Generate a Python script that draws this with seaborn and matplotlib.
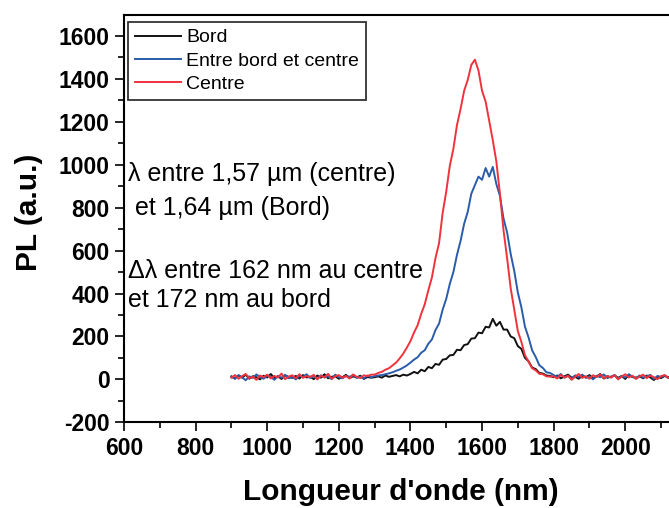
import numpy as np
import pandas as pd
import matplotlib
matplotlib.use("Agg")
import matplotlib.pyplot as plt
import seaborn as sns

# wavelength grid (nm), sampled every 10 nm
wavelength = np.arange(900, 2131, 10)

bord = [12, 5, 18, 8, 22, 3, 15, 10, 0, 17, 9, 25, 6, 14, 2, 19, 11, 7, 16, 4,
        20, 9, 13, 1, 18, 8, 24, 5, 12, 15, 3, 10, 21, 6, 14, 9, 17, 2, 11, 8,
        10, 14, 8, 18, 12, 16, 20, 14, 22, 18,
        25, 35, 28, 45, 38, 58, 52, 72, 68, 92,
        95, 112, 114, 138, 136, 160, 164, 190, 192, 218,
        215, 245, 242, 282, 250, 268, 232, 232, 200, 192,
        155, 142, 100, 84, 55, 48, 30, 27, 18, 16,
        10, 18, 5, 14, 22, 8, 12, 3, 17, 9, 20, 6, 13, 25, 4, 15, 10, 19, 7, 16,
        2, 21, 11, 8, 14, 5, 18, 9, -3, 12, 6, 16, 10, 13]

entre = [15, 2, 20, 9, -4, 14, 7, 23, 10, 3, 18, 12, -2, 16, 8, 21, 5, 13, 0, 17,
         11, 24, 6, 15, 3, 19, 9, 14, 1, 22, 10, 5, 16, 12, 20, 7, 13, 4, 18, 10,
         15, 18, 20, 24, 28, 33, 40, 46, 55, 65,
         78, 92, 103, 124, 136, 166, 186, 230, 260, 325,
         375, 445, 500, 580, 645, 725, 780, 865, 905, 945,
         930, 985, 945, 990, 910, 855, 750, 685, 585, 505,
         405, 335, 245, 195, 135, 104, 66, 53, 33, 30,
         20, 12, 25, 8, 16, 4, 19, 11, 22, 7, 14, 0, 17, 10, 23, 6, 13, 20, 3, 15,
         9, 24, 12, 5, 18, 8, 14, 21, 2, 16, 11, 19, 6, 13]

centre = [8, 20, 3, 15, 25, 6, 12, -2, 18, 10, 22, 4, 16, 9, 27, 1, 13, 19, 5, 24,
          7, 15, 11, 21, 0, 17, 9, 26, 3, 14, 20, 8, 16, 4, 23, 12, 6, 19, 15, 22,
          22, 30, 35, 45, 52, 65, 78, 98, 120, 148,
          178, 218, 252, 305, 350, 415, 475, 565, 635, 775,
          875, 995, 1075, 1185, 1260, 1345, 1395, 1465, 1490, 1440,
          1345, 1295, 1205, 1115, 1015, 865, 695, 565, 425, 325,
          225, 174, 112, 83, 52, 42, 26, 24, 14, 13,
          14, 4, 21, 9, 17, -2, 12, 25, 7, 15, 3, 19, 11, 23, 5, 16, 8, 20, 0, 13,
          24, 9, 17, 2, 14, 22, 6, 18, 10, 1, 15, 20, 7, 12]

series_names = ["Bord", "Entre bord et centre", "Centre"]
colors = ["#111111", "#2a5caa", "#f0323c"]

df = pd.concat([
    pd.DataFrame({"wavelength": wavelength, "PL": vals, "sample": name})
    for name, vals in zip(series_names, [bord, entre, centre])
])

plt.rcParams["font.family"] = ["Liberation Sans", "DejaVu Sans"]

fig = plt.figure(figsize=(6.69, 5.08), dpi=100)
ax = fig.add_axes([0.1853, 0.1687, 0.8296, 0.8026])

sns.lineplot(data=df, x="wavelength", y="PL", hue="sample", hue_order=series_names,
             palette=colors, sort=False, estimator=None, lw=1.4, legend=False, ax=ax)

ax.set_xlim(600, 2150)
ax.set_ylim(-200, 1700)

xt = list(range(600, 2101, 200))
yt = list(range(-200, 1601, 200))
ax.set_xticks(xt)
ax.set_xticklabels([str(v) for v in xt], fontweight="bold", fontsize=16.5)
ax.set_yticks(yt)
ax.set_yticklabels([str(v) for v in yt], fontweight="bold", fontsize=16.5)
ax.set_xticks(list(range(700, 2150, 200)), minor=True)
ax.set_yticks(list(range(-100, 1700, 200)), minor=True)
ax.tick_params(which="major", direction="out", length=6.5, width=1.2, pad=4)
ax.tick_params(which="minor", direction="out", length=4, width=1.2)
for s in ax.spines.values():
    s.set_linewidth(1.5)

ax.set_xlabel("Longueur d'onde (nm)", fontsize=21.5, fontweight="bold")
ax.set_ylabel("PL (a.u.)", fontsize=21.5, fontweight="bold")
ax.xaxis.set_label_coords(0.499, -0.137)
ax.yaxis.set_label_coords(-0.146, 0.516)

leg = ax.legend(handles=ax.get_lines()[:3], labels=series_names, loc="upper left",
                bbox_to_anchor=(0.007, 0.982), fontsize=14, frameon=True, fancybox=False,
                handlelength=2.4, handletextpad=0.25, labelspacing=0.3, borderpad=0.35,
                borderaxespad=0)
leg.get_frame().set_edgecolor("black")
leg.get_frame().set_linewidth(1.3)

ax.text(610, 957, "\u03bb entre 1,57 \u00b5m (centre)", fontsize=18, va="center")
ax.text(610, 798, " et 1,64 \u00b5m (Bord)", fontsize=18, va="center")
ax.text(610, 505, "\u0394\u03bb entre 162 nm au centre", fontsize=18, va="center")
ax.text(610, 370, "et 172 nm au bord", fontsize=18, va="center")

fig.savefig("out.png", dpi=100)
